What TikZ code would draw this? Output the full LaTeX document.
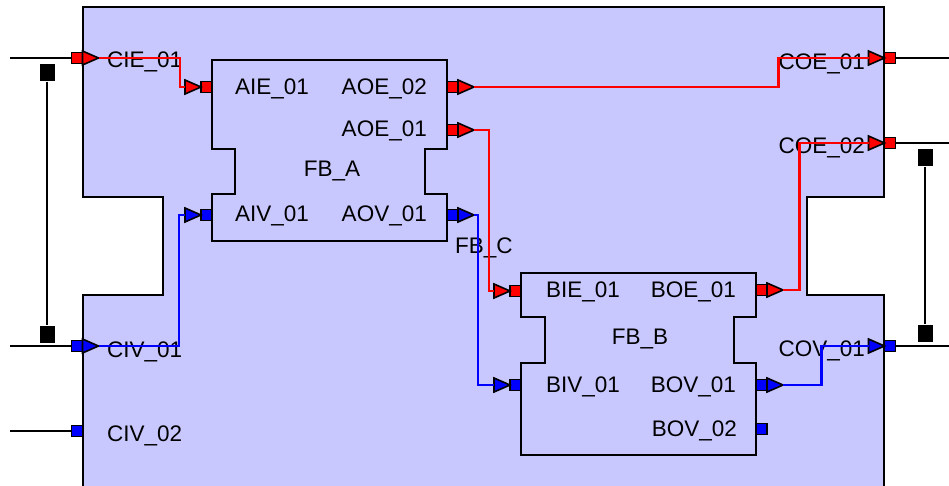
\documentclass[tikz,border=0pt]{standalone}
\usepackage{fontspec}
\setmainfont{Liberation Sans}
\usetikzlibrary{shapes.geometric}
\definecolor{fbfill}{RGB}{200,200,255}
\definecolor{evred}{RGB}{255,0,0}
\definecolor{dtblue}{RGB}{0,0,255}

\begin{document}
\begin{tikzpicture}
    [x=1pt, y=-1pt,
     fb/.style={draw, line width=2.4pt, fill=fbfill},
     pin/.style={rectangle, draw, line width=1.6pt, minimum size=11pt, inner sep=0pt, outer sep=0pt},
     tip/.style={isosceles triangle, isosceles triangle stretches, draw, line width=1.6pt,
                 minimum height=16pt, minimum width=14pt, inner sep=0pt, outer sep=0pt},
     txt/.style={inner sep=0pt, font=\fontsize{22.5}{26}\selectfont},
     link/.style={rectangle, fill=black, minimum width=15pt, minimum height=17pt, inner sep=0pt},
     ext/.style={line width=2pt},
     ewire/.style={evred, line width=2.2pt},
     dwire/.style={dtblue, line width=2.2pt}]
    \useasboundingbox (0,0) rectangle (949,486);

    \draw [fb] (83,7) -- (884,7) -- (884,197) -- (807,197) -- (807,295) -- (884,295)
        -- (884,492) -- (83,492) -- (83,295) -- (163,295) -- (163,197) -- (83,197) -- cycle;
    \draw [fb] (212,60) -- (447,60) -- (447,149) -- (425,149) -- (425,194) -- (447,194)
        -- (447,241) -- (212,241) -- (212,194) -- (235,194) -- (235,149) -- (212,149) -- cycle;
    \draw [fb] (521,273) -- (756,273) -- (756,317) -- (734,317) -- (734,363) -- (756,363)
        -- (756,455) -- (521,455) -- (521,363) -- (545,363) -- (545,317) -- (521,317) -- cycle;

    \node (lFBA) at (332,171) [txt] {FB\_A};
    \node (lFBB) at (640,339) [txt] {FB\_B};
    \node (lFBC) at (455,248) [txt, anchor=west] {FB\_C};

    \node (lCIE01) at (107,62) [txt, anchor=west] {CIE\_01};
    \node (lCIV01) at (107,352) [txt, anchor=west] {CIV\_01};
    \node (lCIV02) at (107,436) [txt, anchor=west] {CIV\_02};
    \node (lCOE01) at (865,64) [txt, anchor=east] {COE\_01};
    \node (lCOE02) at (865,148) [txt, anchor=east] {COE\_02};
    \node (lCOV01) at (865,351) [txt, anchor=east] {COV\_01};

    \node (lAIE01) at (235,89) [txt, anchor=west] {AIE\_01};
    \node (lAIV01) at (235,216) [txt, anchor=west] {AIV\_01};
    \node (lAOE02) at (427,89) [txt, anchor=east] {AOE\_02};
    \node (lAOE01) at (427,131) [txt, anchor=east] {AOE\_01};
    \node (lAOV01) at (427,216) [txt, anchor=east] {AOV\_01};

    \node (lBIE01) at (546,292) [txt, anchor=west] {BIE\_01};
    \node (lBIV01) at (546,387) [txt, anchor=west] {BIV\_01};
    \node (lBOE01) at (736,292) [txt, anchor=east] {BOE\_01};
    \node (lBOV01) at (736,387) [txt, anchor=east] {BOV\_01};
    \node (lBOV02) at (737,431) [txt, anchor=east] {BOV\_02};

    \node (pCIE01) at (77,58) [pin, fill=evred] {};
    \node (pCIV01) at (77,346) [pin, fill=dtblue] {};
    \node (pCIV02) at (77,431) [pin, fill=dtblue] {};
    \node (pCOE01) at (890,58) [pin, fill=evred] {};
    \node (pCOE02) at (890,143) [pin, fill=evred] {};
    \node (pCOV01) at (890,346) [pin, fill=dtblue] {};
    \node (tCIE01) at (pCIE01.east) [tip, anchor=west, fill=evred] {};
    \node (tCIV01) at (pCIV01.east) [tip, anchor=west, fill=dtblue] {};
    \node (tCOE01) at (pCOE01.west) [tip, anchor=apex, fill=evred] {};
    \node (tCOE02) at (pCOE02.west) [tip, anchor=apex, fill=evred] {};
    \node (tCOV01) at (pCOV01.west) [tip, anchor=apex, fill=dtblue] {};

    \node (pAIE01) at (206.5,87) [pin, fill=evred] {};
    \node (pAIV01) at (206.5,215) [pin, fill=dtblue] {};
    \node (pAOE02) at (452.5,87) [pin, fill=evred] {};
    \node (pAOE01) at (452.5,130) [pin, fill=evred] {};
    \node (pAOV01) at (452.5,215) [pin, fill=dtblue] {};
    \node (tAIE01) at (pAIE01.west) [tip, anchor=apex, fill=evred] {};
    \node (tAIV01) at (pAIV01.west) [tip, anchor=apex, fill=dtblue] {};
    \node (tAOE02) at (pAOE02.east) [tip, anchor=west, fill=evred] {};
    \node (tAOE01) at (pAOE01.east) [tip, anchor=west, fill=evred] {};
    \node (tAOV01) at (pAOV01.east) [tip, anchor=west, fill=dtblue] {};

    \node (pBIE01) at (515.5,291) [pin, fill=evred] {};
    \node (pBIV01) at (515.5,385) [pin, fill=dtblue] {};
    \node (pBOE01) at (761.5,290) [pin, fill=evred] {};
    \node (pBOV01) at (761.5,385) [pin, fill=dtblue] {};
    \node (pBOV02) at (761.5,429) [pin, fill=dtblue] {};
    \node (tBIE01) at (pBIE01.west) [tip, anchor=apex, fill=evred] {};
    \node (tBIV01) at (pBIV01.west) [tip, anchor=apex, fill=dtblue] {};
    \node (tBOE01) at (pBOE01.east) [tip, anchor=west, fill=evred] {};
    \node (tBOV01) at (pBOV01.east) [tip, anchor=west, fill=dtblue] {};

    \draw [ewire] (tCIE01.apex) -| ([xshift=-5pt]tAIE01.west) -- (tAIE01.west);
    \draw [dwire] (tCIV01.apex) -| ([xshift=-6pt]tAIV01.west) -- (tAIV01.west);
    \draw [ewire] (tAOE02.apex) -| ([xshift=-90pt]tCOE01.west) -- (tCOE01.west);
    \draw [ewire] (tAOE01.apex) -| ([xshift=-5pt]tBIE01.west) -- (tBIE01.west);
    \draw [dwire] (tAOV01.apex) -| ([xshift=-16pt]tBIV01.west) -- (tBIV01.west);
    \draw [ewire] (tBOE01.apex) -| ([xshift=-69pt]tCOE02.west) -- (tCOE02.west);
    \draw [dwire] (tBOV01.apex) -| ([xshift=-47pt]tCOV01.west) -- (tCOV01.west);

    \coordinate (oCIE01) at (10,58);
    \coordinate (oCIV01) at (10,346);
    \coordinate (oCIV02) at (10,431);
    \coordinate (oCOE01) at (949,58);
    \coordinate (oCOE02) at (949,143);
    \coordinate (oCOV01) at (949,346);
    \draw [ext] (oCIE01) -- (pCIE01);
    \draw [ext] (oCIV01) -- (pCIV01);
    \draw [ext] (oCIV02) -- (pCIV02);
    \draw [ext] (pCOE01) -- (oCOE01);
    \draw [ext] (pCOE02) -- (oCOE02);
    \draw [ext] (pCOV01) -- (oCOV01);

    \node (kLtop) at (47,73) [link] {};
    \node (kLbot) at (47,334) [link] {};
    \node (kRtop) at (925,158) [link] {};
    \node (kRbot) at (925,333) [link] {};
    \draw [ext] (kLtop) -- (kLbot);
    \draw [ext] (kRtop) -- (kRbot);
\end{tikzpicture}
\end{document}
